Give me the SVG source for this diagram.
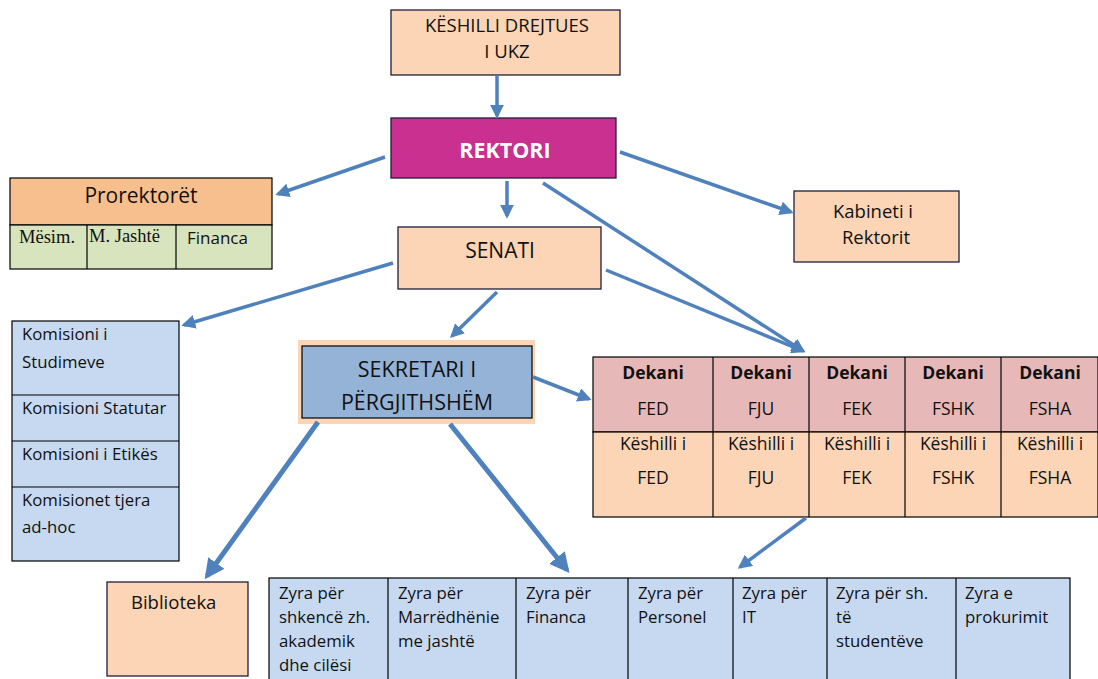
<svg xmlns="http://www.w3.org/2000/svg" width="1098" height="679" viewBox="0 0 1098 679">
<defs>
<style>
svg{font-family:"Open Sans","Noto Sans","DejaVu Sans",sans-serif;font-size:16.8px}
text{fill:#111}
.c{text-anchor:middle}
.b{stroke:#1f1f3a;stroke-width:1.3}
.k{stroke:#000;stroke-width:1.2}
.peach{fill:#FBD5B5}
.blue{fill:#C6D9F0}
.conn line{stroke:#4F81BD;stroke-width:3.5;marker-end:url(#ah)}
.serif{font-family:"Liberation Serif","Times New Roman",serif;font-size:18.5px}
</style>
<marker id="ah" viewBox="0 0 10 10" refX="8" refY="5" markerWidth="4" markerHeight="4" orient="auto" markerUnits="strokeWidth">
<path d="M0,0 L10,5 L0,10 z" fill="#4F81BD"/>
</marker>
</defs>
<rect width="1098" height="679" fill="#fff"/>

<g id="keshilli">
<rect x="391" y="10" width="229" height="65" class="peach b"/>
<text x="507" y="32" class="c" font-size="18.5">KЁSHILLI DREJTUES</text>
<text x="507" y="58" class="c" font-size="18.5">I UKZ</text>
</g>

<g id="rektori">
<rect x="391" y="118" width="225" height="60" fill="#C9308F" class="b"/>
<text x="505" y="158" class="c" style="font-size:21.5px;font-weight:bold;fill:#fff">REKTORI</text>
</g>

<g id="prorektoret">
<rect x="10" y="178" width="262" height="47" fill="#F8BF8E" class="k"/>
<rect x="10" y="225" width="262" height="44" fill="#D7E4BD" class="k"/>
<line x1="87" y1="225" x2="87" y2="269" class="k"/>
<line x1="176" y1="225" x2="176" y2="269" class="k"/>
<text x="141" y="203" class="c" font-size="21">Prorektorët</text>
<text x="19" y="243" class="serif">Mësim.</text>
<text x="89" y="242" class="serif">M. Jashtë</text>
<text x="187" y="244" font-size="17">Financa</text>
</g>

<g id="kabineti">
<rect x="794" y="191" width="165" height="71" class="peach b"/>
<text x="873" y="218" class="c" font-size="18.5">Kabineti i</text>
<text x="876" y="244" class="c" font-size="18.5">Rektorit</text>
</g>

<g id="senati">
<rect x="398" y="227" width="203" height="62" class="peach b"/>
<text x="500" y="258" class="c" font-size="21">SENATI</text>
</g>

<g id="komisionet">
<rect x="12" y="321" width="167" height="240" class="blue k"/>
<line x1="12" y1="395" x2="179" y2="395" class="k"/>
<line x1="12" y1="441" x2="179" y2="441" class="k"/>
<line x1="12" y1="487" x2="179" y2="487" class="k"/>
<text x="22" y="340">Komisioni i</text>
<text x="22" y="368">Studimeve</text>
<text x="22" y="414">Komisioni Statutar</text>
<text x="22" y="460">Komisioni i Etikës</text>
<text x="22" y="506">Komisionet tjera</text>
<text x="22" y="533">ad-hoc</text>
</g>

<g id="sekretari">
<rect x="298" y="340" width="237" height="84" fill="#FBD5B5"/>
<rect x="302" y="346" width="230" height="72" fill="#95B3D7" class="k"/>
<text x="417" y="377" class="c" font-size="21.5">SEKRETARI I</text>
<text x="417" y="410" class="c" font-size="21.5">PËRGJITHSHËM</text>
</g>

<g id="dekanet">
<rect x="593" y="357" width="505" height="75" fill="#E6B9B8" class="k"/>
<rect x="593" y="432" width="505" height="85" class="peach k"/>
<line x1="713" y1="357" x2="713" y2="517" class="k"/>
<line x1="809" y1="357" x2="809" y2="517" class="k"/>
<line x1="905" y1="357" x2="905" y2="517" class="k"/>
<line x1="1001" y1="357" x2="1001" y2="517" class="k"/>
<g class="c" font-size="17.5">
<text x="653" y="379" font-weight="bold">Dekani</text>
<text x="761" y="379" font-weight="bold">Dekani</text>
<text x="857" y="379" font-weight="bold">Dekani</text>
<text x="953" y="379" font-weight="bold">Dekani</text>
<text x="1050" y="379" font-weight="bold">Dekani</text>
<text x="653" y="415">FED</text>
<text x="761" y="415">FJU</text>
<text x="857" y="415">FEK</text>
<text x="953" y="415">FSHK</text>
<text x="1050" y="415">FSHA</text>
<text x="653" y="450">Këshilli i</text>
<text x="761" y="450">Këshilli i</text>
<text x="857" y="450">Këshilli i</text>
<text x="953" y="450">Këshilli i</text>
<text x="1050" y="450">Këshilli i</text>
<text x="653" y="484">FED</text>
<text x="761" y="484">FJU</text>
<text x="857" y="484">FEK</text>
<text x="953" y="484">FSHK</text>
<text x="1050" y="484">FSHA</text>
</g>
</g>

<g id="biblioteka">
<rect x="107" y="582" width="141" height="94" class="peach b"/>
<text x="131" y="609" font-size="18.5">Biblioteka</text>
</g>

<g id="zyrat">
<rect x="269" y="578" width="801" height="103" class="blue k"/>
<line x1="388" y1="578" x2="388" y2="679" class="k"/>
<line x1="516" y1="578" x2="516" y2="679" class="k"/>
<line x1="628" y1="578" x2="628" y2="679" class="k"/>
<line x1="733" y1="578" x2="733" y2="679" class="k"/>
<line x1="827" y1="578" x2="827" y2="679" class="k"/>
<line x1="956" y1="578" x2="956" y2="679" class="k"/>
<g font-size="16.8">
<text x="279" y="599">Zyra për</text>
<text x="279" y="623">shkencë zh.</text>
<text x="279" y="647">akademik</text>
<text x="279" y="671">dhe cilësi</text>
<text x="398" y="599">Zyra për</text>
<text x="398" y="623">Marrëdhënie</text>
<text x="398" y="647">me jashtë</text>
<text x="526" y="599">Zyra për</text>
<text x="526" y="623">Financa</text>
<text x="638" y="599">Zyra për</text>
<text x="638" y="623">Personel</text>
<text x="742" y="599">Zyra për</text>
<text x="742" y="623">IT</text>
<text x="836" y="599">Zyra për sh.</text>
<text x="836" y="623">të</text>
<text x="836" y="647">studentëve</text>
<text x="965" y="599">Zyra e</text>
<text x="965" y="623">prokurimit</text>
</g>
</g>

<g id="connectors" class="conn">
<line x1="497" y1="75" x2="497" y2="116"/>
<line x1="385" y1="157" x2="278" y2="194"/>
<line x1="507" y1="181" x2="507" y2="216"/>
<line x1="620" y1="152" x2="791" y2="212"/>
<line x1="543" y1="183" x2="803" y2="351"/>
<line x1="393" y1="263" x2="184" y2="325"/>
<line x1="497" y1="292" x2="452" y2="336"/>
<line x1="606" y1="270" x2="803" y2="351"/>
<line x1="533" y1="377" x2="589" y2="399"/>
<line x1="318" y1="422" x2="207" y2="576" style="stroke-width:5"/>
<line x1="450" y1="424" x2="567" y2="570" style="stroke-width:5"/>
<line x1="806" y1="518" x2="740" y2="567"/>
</g>
</svg>
